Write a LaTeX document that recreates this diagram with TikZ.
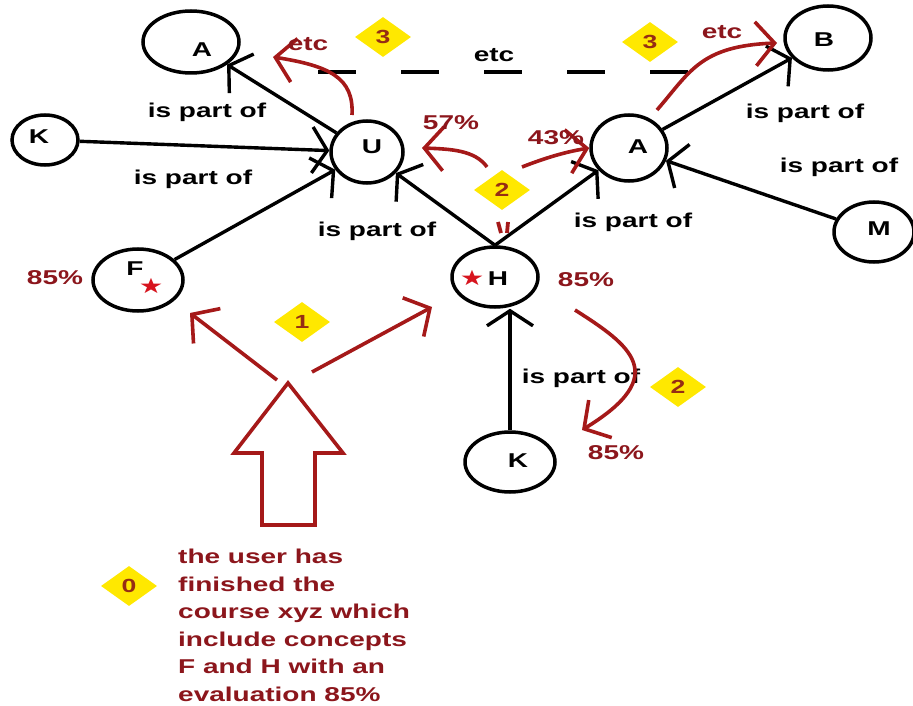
\documentclass[tikz,border=0pt]{standalone}
\usepackage{fontspec}
\setmainfont[FakeStretch=1.4]{Liberation Sans}
\newfontfamily\symfont[FakeStretch=1.3]{DejaVu Sans}
\usetikzlibrary{arrows.meta,shapes.geometric}

\definecolor{inkred}{RGB}{165,25,25}
\definecolor{txtred}{RGB}{140,22,28}
\definecolor{starred}{RGB}{215,20,30}
\definecolor{tagyellow}{RGB}{255,232,0}
\definecolor{tagnum}{RGB}{150,45,20}

\tikzset{
  concept/.style={ellipse, draw, line width=3.5pt, inner sep=0pt},
  ltr/.style={font=\fontsize{20}{22}\selectfont\bfseries, inner sep=0pt},
  rel/.style={line width=3.4pt, -{Straight Barb[length=15pt,width=46pt]}},
  relname/.style={font=\fontsize{20}{22}\selectfont\bfseries, inner sep=0pt},
  flow/.style={inkred, line width=3.6pt, -{Straight Barb[length=19pt,width=44pt]}},
  pct/.style={text=txtred, font=\fontsize{20}{22}\selectfont\bfseries, inner sep=0pt},
  tag/.style={diamond, fill=tagyellow, minimum width=56pt, minimum height=40pt,
              inner sep=0pt, text=tagnum, font=\fontsize{19}{19}\selectfont\bfseries},
  staricon/.style={text=starred, font=\symfont\fontsize{21}{21}\selectfont, inner sep=0pt},
}

\begin{document}
\begin{tikzpicture}[x=1pt,y=-1pt]
\fill[white] (0,0) rectangle (913,706);
\useasboundingbox (0,0) rectangle (913,706);

% concepts
\node[concept, minimum width=96pt, minimum height=62pt,
      label={[ltr,xshift=11pt,yshift=-8pt]center:A}] (Atop) at (191,42) {};
\node[concept, minimum width=72pt, minimum height=62pt,
      label={[ltr,xshift=5pt,yshift=5pt]center:U}] (U) at (367,152) {};
\node[concept, minimum width=66pt, minimum height=50pt,
      label={[ltr,xshift=-6pt,yshift=3pt]center:K}] (K1) at (45,140) {};
\node[concept, minimum width=90pt, minimum height=62pt,
      label={[ltr,xshift=-3pt,yshift=11pt]center:F},
      label={[staricon,xshift=13pt,yshift=-6pt]center:★}] (F) at (138,280) {};
\node[concept, minimum width=86pt, minimum height=60pt,
      label={[ltr,xshift=3pt,yshift=-2pt]center:H},
      label={[staricon,xshift=-23pt,yshift=-1pt]center:★}] (H) at (495,277) {};
\node[concept, minimum width=76pt, minimum height=66pt,
      label={[ltr,xshift=9pt,yshift=1pt]center:A}] (A2) at (629,148) {};
\node[concept, minimum width=86pt, minimum height=64pt,
      label={[ltr,xshift=-4pt,yshift=-2pt]center:B}] (B) at (828,38) {};
\node[concept, minimum width=80pt, minimum height=60pt,
      label={[ltr,xshift=5pt,yshift=3pt]center:M}] (M) at (874,232) {};
\node[concept, minimum width=90pt, minimum height=60pt,
      label={[ltr,xshift=8pt,yshift=1pt]center:K}] (K2) at (510,462) {};

% "is part of" relations
\draw[rel] (U) -- (Atop);
\draw[rel] (K1) -- (U);
\draw[rel] (F) -- (U);
\draw[rel] (H.north) -- (U);
\draw[rel] (H.north) -- (A2);
\draw[rel] (A2) -- (B);
\draw[rel] (M) -- (A2);
\draw[rel] (K2.north) -- (K2.north |- H.south);

\node[relname] (r1) at (207,112) {is part of};
\node[relname] (r2) at (193,179) {is part of};
\node[relname] (r3) at (377,231) {is part of};
\node[relname] (r4) at (633,222) {is part of};
\node[relname] (r5) at (805,113) {is part of};
\node[relname] (r6) at (839,167) {is part of};
\node[relname] (r7) at (581,378) {is part of};

% continuation
\coordinate (dashL) at (318,72);
\coordinate (dashR) at (690,72);
\draw[line width=3.8pt, dash pattern=on 38pt off 45pt] (dashL) -- (dashR);
\node[relname] (etcmid) at (494,55) {etc};

% propagation steps
\coordinate (s1a) at (277,380);  \coordinate (t1a) at (190,313);
\coordinate (s1b) at (312,372);  \coordinate (t1b) at (432,307);
\draw[flow] (s1a) -- (t1a);
\draw[flow] (s1b) -- (t1b);

\coordinate (s2u) at (487,167);  \coordinate (t2u) at (422,148);
\draw[flow] (s2u) .. controls (475,150) and (450,149) .. (t2u);
\coordinate (s2a) at (522,167);
\draw[flow] (s2a) .. controls (545,158) and (565,152) .. (A2.west);
\coordinate (s2k) at (575,310);  \coordinate (t2k) at (582,430);
\draw[flow] (s2k) .. controls (630,345) and (672,375) .. (t2k);
\draw[inkred, line width=3.8pt] (498,222) -- (501,233) (508,222) -- (507,233);

\coordinate (s3u) at (352,115);  \coordinate (t3u) at (273,57);
\draw[flow] (s3u) .. controls (354,78) and (330,66) .. (t3u);
\coordinate (s3a) at (657,110);  \coordinate (t3a) at (777,43);
\draw[flow] (s3a) .. controls (690,72) and (700,46) .. (t3a);

\node[pct] (etcL) at (308,44) {etc};
\node[pct] (etcR) at (722,32) {etc};
\node[pct] (p57) at (451,123) {57\%};
\node[pct] (p43) at (556,138) {43\%};
\node[pct] (pF) at (55,278) {85\%};
\node[pct] (pH) at (586,280) {85\%};
\node[pct] (pK) at (616,453) {85\%};

% starting point
\draw[inkred, line width=3.6pt, line join=miter]
  (288,383) -- (343,453) -- (315,453) -- (315,525) -- (262,525)
  -- (262,453) -- (234,453) -- cycle;
\node[pct, anchor=north west, align=left, font=\fontsize{20}{27.5}\selectfont\bfseries]
  (note) at (178,549)
  {the user has\\finished the\\course xyz which\\include concepts\\F and H with an\\evaluation 85\%};

% step tags
\node[tag] (tag0) at (129,586) {0};
\node[tag] (tag1) at (302,322) {1};
\node[tag] (tag2a) at (502,190) {2};
\node[tag] (tag2b) at (678,387) {2};
\node[tag] (tag3a) at (383,37) {3};
\node[tag] (tag3b) at (650,42) {3};
\end{tikzpicture}
\end{document}
